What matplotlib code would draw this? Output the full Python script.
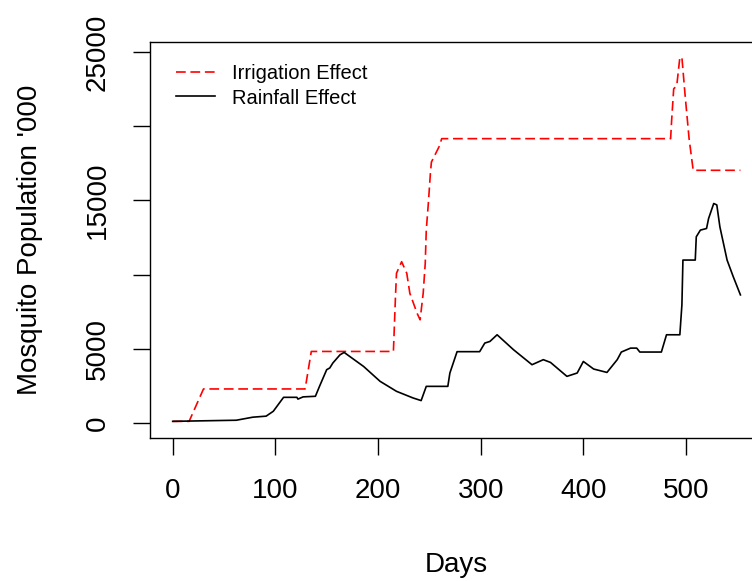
import matplotlib
matplotlib.use("Agg")
import matplotlib.pyplot as plt

plt.rcParams['font.family'] = ['Liberation Sans', 'DejaVu Sans']
plt.rcParams['lines.scale_dashes'] = False

# Irrigation effect (red dashed)
red_days = [0, 16, 30, 129, 135, 215, 217, 218, 223, 228, 231, 238, 241, 244,
            246, 247, 249, 251, 252, 260, 262, 485, 486, 488, 491, 494, 496,
            499, 503, 507, 553]
red_vals = [100, 100, 2285, 2285, 4815, 4815, 8510, 10090, 10870, 10090, 8740,
            7400, 6950, 8740, 10760, 13000, 14795, 16810, 17590, 18700, 19170,
            19170, 20400, 22530, 22750, 24650, 24650, 22190, 19170, 17035, 17035]

# Rainfall effect (black solid)
black_days = [0, 62, 78, 91, 98, 108, 121, 122, 127, 139, 143, 150, 153, 156,
              163, 167, 186, 202, 218, 234, 242, 247, 268, 270, 277, 299, 304,
              309, 316, 332, 350, 361, 368, 384, 394, 400, 410, 423, 433, 437,
              446, 452, 455, 476, 481, 494, 496, 497, 509, 510, 514, 520, 522,
              527, 530, 533, 540, 546, 553]
black_vals = [100, 175, 380, 450, 780, 1720, 1720, 1600, 1750, 1790, 2460, 3585,
              3700, 4035, 4590, 4750, 3800, 2800, 2125, 1680, 1500, 2460, 2460,
              3360, 4800, 4800, 5380, 5490, 5940, 4930, 3920, 4260, 4075, 3135,
              3360, 4140, 3630, 3400, 4260, 4775, 5040, 5040, 4775, 4775, 5940,
              5940, 7955, 10980, 10980, 12550, 13000, 13110, 13785, 14795, 14700,
              13220, 10980, 9860, 8630]

x_ticks = [0, 100, 200, 300, 400, 500]
y_ticks = [0, 5000, 10000, 15000, 20000, 25000]
y_labels = ['0', '5000', '', '15000', '', '25000']

fig = plt.figure(figsize=(7.52, 5.81), dpi=100)
# axes runs past the right edge, like the cropped original
ax = fig.add_axes([150 / 752, 1 - 437.5 / 581, 612.7 / 752, 395.5 / 581])

ax.plot(red_days, red_vals, color='red', lw=1.2, dashes=(7, 3.4),
        label='Irrigation Effect')
ax.plot(black_days, black_vals, color='black', lw=1.2, label='Rainfall Effect')

ax.set_xlim(-22.1, 574.7)
ax.set_ylim(-990, 25690)
ax.set_xticks(x_ticks)
ax.set_xticklabels([str(t) for t in x_ticks])
ax.set_yticks(y_ticks)
ax.set_yticklabels(y_labels, rotation=90, va='center')

for s in ax.spines.values():
    s.set_linewidth(1.0)
ax.tick_params(axis='both', length=12.5, width=1.0, labelsize=20)
ax.tick_params(axis='x', pad=17)
ax.tick_params(axis='y', pad=16)

ax.set_xlabel('Days', fontsize=20, labelpad=34)
ax.set_ylabel("Mosquito Population '000", fontsize=20, labelpad=30)

ax.legend(loc='upper left', bbox_to_anchor=(0.029, 0.965), frameon=False,
          fontsize=14.5, handlelength=1.95, handletextpad=0.85,
          labelspacing=0.28, borderaxespad=0)

fig.savefig('out.png', dpi=100)
